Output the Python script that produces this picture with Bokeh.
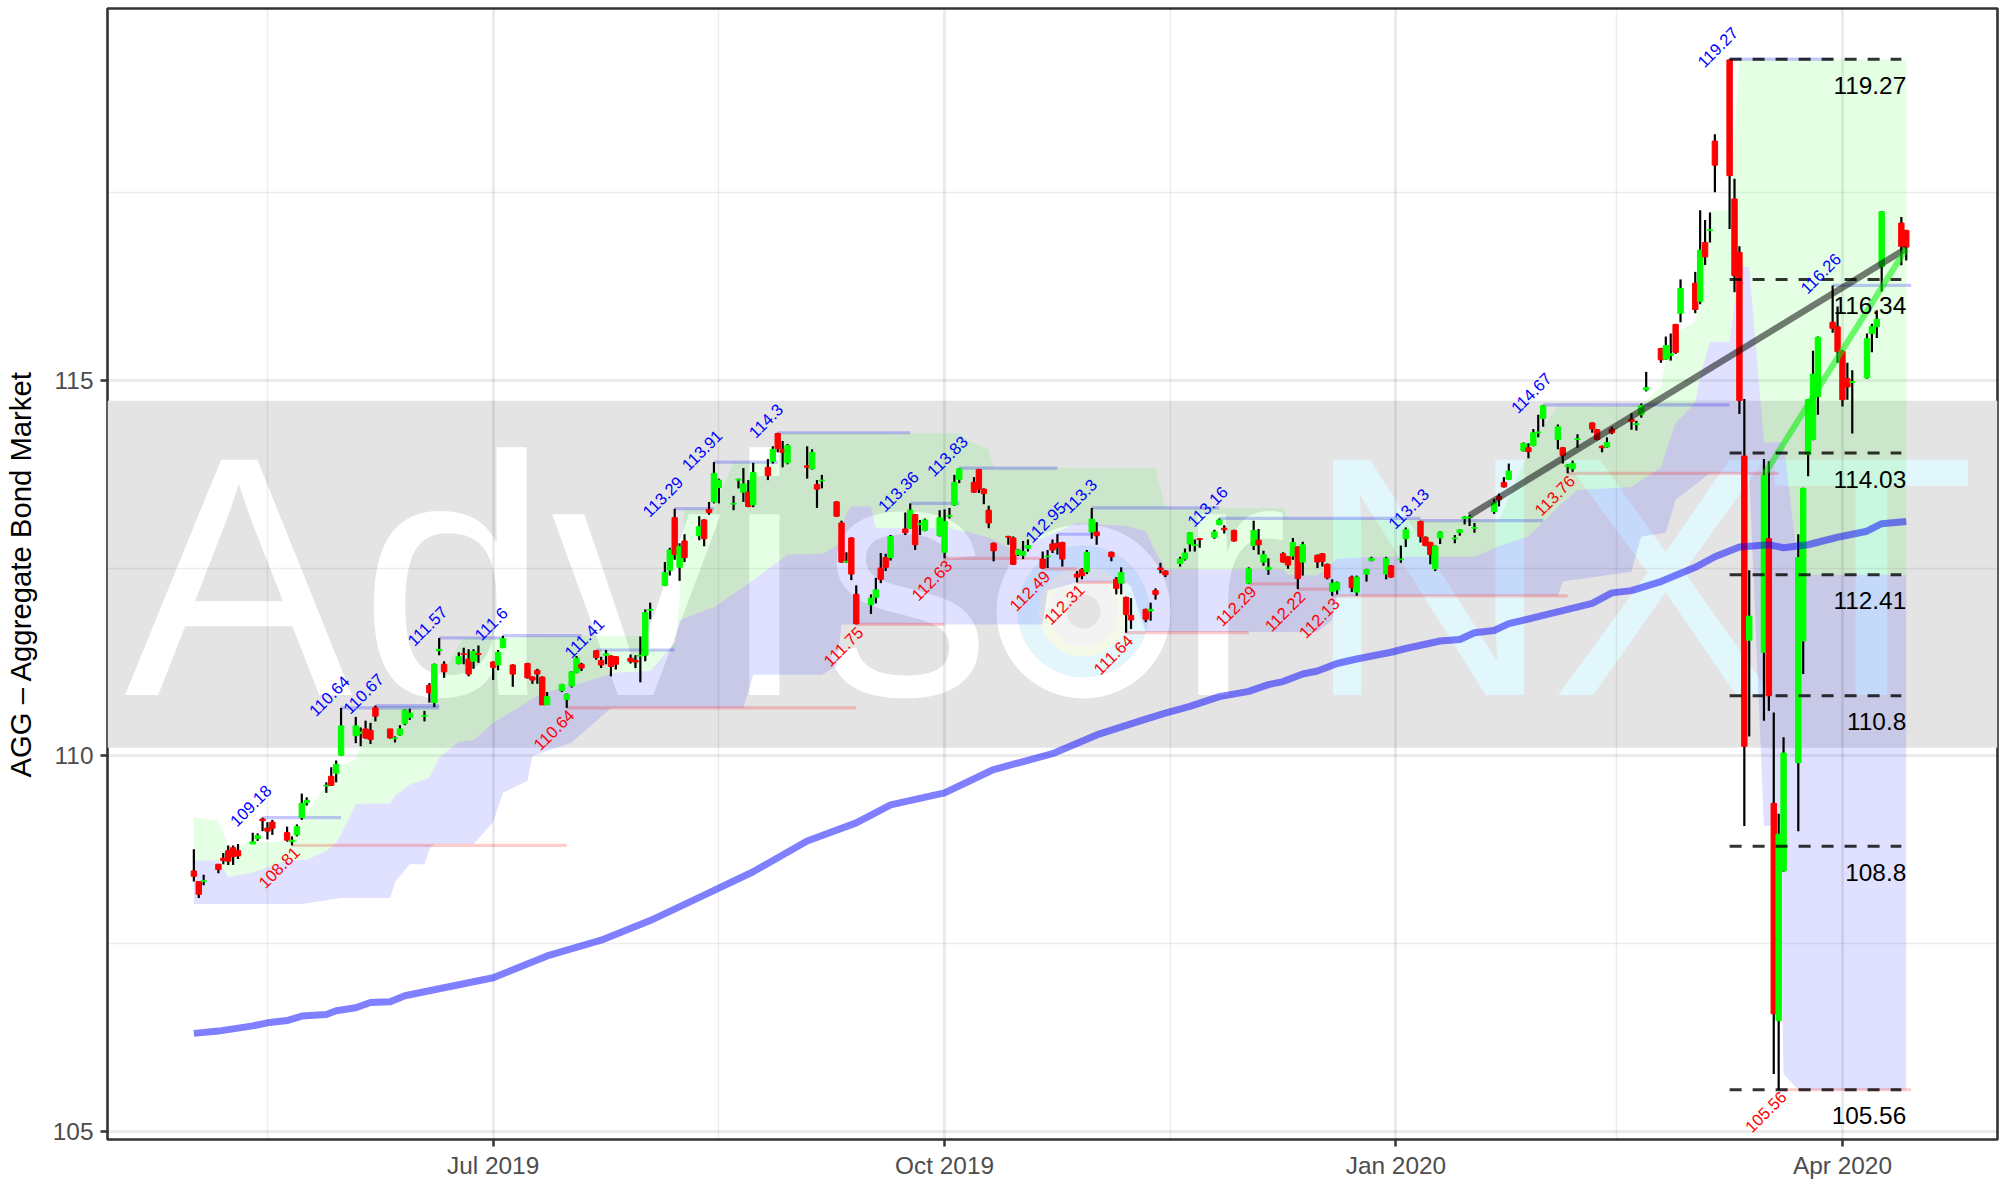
import pandas as pd
from bokeh.embed import file_html
from bokeh.resources import INLINE
from bokeh.plotting import figure
from bokeh.models import FixedTicker, ColumnDataSource, Range1d
from bokeh.core.properties import value

# ---- candles by month: day of month, high, body top, body bottom, low, R/G
d_2019_05 = [1,2,3,6,7,8,9,10,13,14,15,16,17,20,21,22,23,24,28,29,30,31]
h_2019_05 = [108.76,108.33,108.42,108.56,108.71,108.81,108.81,108.83,108.98,108.97,109.18,109.12,109.15,109.06,108.93,109.09,109.50,109.45,109.65,109.85,109.94,110.64]
t_2019_05 = [108.47,108.33,108.34,108.56,108.64,108.74,108.78,108.74,108.86,108.94,109.16,109.04,109.12,108.98,108.88,109.06,109.37,109.41,109.61,109.73,109.89,110.40]
b_2019_05 = [108.40,108.16,108.33,108.49,108.61,108.60,108.66,108.67,108.83,108.90,109.14,109.00,109.04,108.88,108.86,108.95,109.18,109.38,109.60,109.61,109.77,110.01]
l_2019_05 = [108.33,108.11,108.28,108.44,108.56,108.55,108.55,108.63,108.83,108.87,109.00,108.89,108.95,108.86,108.81,108.93,109.15,109.34,109.51,109.60,109.65,110.00]
c_2019_05 = "RRGRRRRRGGRRRRGGGGGRGG"

d_2019_06 = [3,4,5,6,7,10,11,12,13,14,17,18,19,20,21,24,25,26,27,28]
h_2019_06 = [110.52,110.38,110.47,110.44,110.67,110.36,110.26,110.41,110.62,110.63,110.60,110.97,111.23,111.57,111.26,111.38,111.44,111.42,111.42,111.47]
t_2019_06 = [110.40,110.32,110.36,110.34,110.64,110.36,110.24,110.36,110.61,110.57,110.54,110.94,111.22,111.42,111.22,111.32,111.36,111.29,111.39,111.36]
b_2019_06 = [110.27,110.30,110.24,110.22,110.53,110.24,110.23,110.28,110.43,110.51,110.53,110.84,110.71,111.40,111.12,111.23,111.35,111.09,111.26,111.35]
l_2019_06 = [110.17,110.13,110.23,110.16,110.46,110.23,110.18,110.27,110.41,110.48,110.46,110.71,110.65,111.34,111.04,111.22,111.22,111.06,111.16,111.24]
c_2019_06 = "GGRRRRGGGGGRGGRGRRGR"

d_2019_07 = [1,2,3,5,8,9,10,11,12,15,16,17,18,19,22,23,24,25,26,29,30,31]
h_2019_07 = [111.26,111.41,111.60,111.22,111.24,111.06,111.16,111.06,110.85,110.96,110.83,111.13,111.33,111.24,111.41,111.32,111.41,111.34,111.33,111.35,111.34,111.59]
t_2019_07 = [111.25,111.38,111.56,111.21,111.23,111.05,111.14,111.05,110.79,110.95,110.82,111.12,111.30,111.22,111.40,111.27,111.36,111.33,111.32,111.30,111.27,111.34]
b_2019_07 = [111.18,111.21,111.44,111.09,111.04,111.01,111.09,110.68,110.68,110.87,110.75,110.93,111.11,111.17,111.31,111.21,111.34,111.19,111.22,111.26,111.25,111.33]
l_2019_07 = [111.01,111.14,111.44,110.92,111.03,110.96,110.96,110.68,110.68,110.85,110.64,110.91,111.10,111.13,111.28,111.17,111.22,111.06,111.15,111.23,111.17,110.98]
c_2019_07 = "RGGRRRRRGGGGGRRRGRRRRG"

d_2019_08 = [1,2,5,6,7,8,9,12,13,14,15,16,19,20,21,22,23,26,27,28,29,30]
h_2019_08 = [111.95,112.04,112.58,112.77,113.29,112.83,112.95,113.19,113.15,113.38,113.91,113.69,113.46,113.69,113.83,113.67,113.90,113.95,114.12,114.30,114.19,114.15]
t_2019_08 = [111.91,111.95,112.44,112.74,113.17,112.79,112.86,113.05,113.14,113.28,113.76,113.67,113.36,113.68,113.62,113.51,113.77,113.84,114.08,114.29,114.08,114.13]
b_2019_08 = [111.34,111.94,112.27,112.47,112.68,112.51,112.64,112.93,112.89,113.24,113.38,113.57,113.35,113.67,113.51,113.32,113.34,113.73,113.92,114.09,114.04,113.90]
l_2019_08 = [111.26,111.82,112.26,112.40,112.61,112.33,112.58,112.87,112.79,113.21,113.36,113.36,113.27,113.56,113.38,113.31,113.31,113.67,113.89,114.04,113.84,113.88]
c_2019_08 = "GGGGRGRGRRGGGGGRGRGRRG"

d_2019_09 = [3,4,5,6,9,10,11,12,13,16,17,18,19,20,23,24,25,26,27,30]
h_2019_09 = [114.12,114.08,113.67,113.74,113.39,113.13,112.71,112.91,112.27,112.15,112.37,112.70,112.69,112.94,113.24,113.36,113.22,113.14,113.16,113.27]
t_2019_09 = [113.86,114.04,113.61,113.67,113.38,113.10,112.59,112.90,112.15,112.10,112.21,112.50,112.64,112.92,113.02,113.27,113.21,113.09,113.14,113.17]
b_2019_09 = [113.84,113.82,113.55,113.66,113.19,112.58,112.58,112.42,111.76,112.01,112.11,112.35,112.51,112.64,112.97,113.03,112.81,113.08,113.00,112.93]
l_2019_09 = [113.69,113.81,113.30,113.56,113.18,112.57,112.57,112.34,111.75,111.89,112.03,112.30,112.46,112.60,112.94,113.02,112.74,112.94,112.99,112.92]
c_2019_09 = "RGRGRRGRRGGRRGRGRGGG"

d_2019_10 = [1,2,3,4,7,8,9,10,11,14,15,16,17,18,21,22,23,24,25,28,29,30,31]
h_2019_10 = [113.28,113.30,113.74,113.83,113.71,113.82,113.56,113.33,112.84,112.93,112.92,112.75,112.86,112.88,112.72,112.74,112.88,112.95,112.85,112.46,112.50,112.74,113.30]
t_2019_10 = [113.12,113.20,113.64,113.82,113.64,113.81,113.55,113.27,112.83,112.92,112.90,112.74,112.72,112.80,112.62,112.66,112.82,112.83,112.84,112.42,112.48,112.71,113.15]
b_2019_10 = [112.71,113.19,113.34,113.68,113.51,113.55,113.49,113.10,112.73,112.91,112.55,112.68,112.67,112.76,112.50,112.65,112.74,112.77,112.62,112.38,112.40,112.45,112.98]
l_2019_10 = [112.63,113.16,113.33,113.63,113.50,113.50,113.35,113.03,112.59,112.81,112.54,112.66,112.62,112.72,112.49,112.50,112.70,112.68,112.52,112.31,112.35,112.42,112.89]
c_2019_10 = "GGGGRRRRRRRGGGRGRRRRRGG"

d_2019_11 = [1,4,5,6,7,8,11,12,13,14,15,18,19,20,21,22,25,26,27,29]
h_2019_11 = [113.11,112.72,112.38,112.51,112.12,112.10,111.96,112.04,112.23,112.57,112.47,112.65,112.76,112.98,112.88,112.90,113.01,113.16,113.07,113.01]
t_2019_11 = [112.98,112.71,112.35,112.44,112.11,111.87,111.95,111.95,112.20,112.50,112.46,112.62,112.70,112.97,112.81,112.89,112.98,113.14,113.03,113.00]
b_2019_11 = [112.93,112.65,112.23,112.30,111.88,111.81,111.82,111.93,112.15,112.48,112.41,112.56,112.62,112.82,112.80,112.88,112.91,113.08,113.01,112.86]
l_2019_11 = [112.81,112.59,112.15,112.15,111.64,111.69,111.78,111.80,112.08,112.43,112.38,112.52,112.60,112.72,112.72,112.77,112.89,113.07,112.96,112.85]
c_2019_11 = "RRRGRRRGRRRGGGGRGGRR"

d_2019_12 = [2,3,4,5,6,9,10,11,12,13,16,17,18,19,20,23,24,26,27,30,31]
h_2019_12 = [112.51,113.13,113.02,112.73,112.63,112.71,112.66,112.90,112.79,112.85,112.68,112.70,112.56,112.35,112.32,112.40,112.40,112.49,112.65,112.65,112.54]
t_2019_12 = [112.49,113.00,112.87,112.68,112.51,112.69,112.65,112.84,112.78,112.81,112.67,112.69,112.55,112.30,112.31,112.38,112.38,112.48,112.63,112.63,112.53]
b_2019_12 = [112.30,112.80,112.81,112.58,112.48,112.58,112.54,112.66,112.36,112.58,112.58,112.59,112.37,112.19,112.21,112.24,112.18,112.42,112.60,112.42,112.38]
l_2019_12 = [112.29,112.74,112.68,112.53,112.41,112.57,112.49,112.61,112.22,112.40,112.50,112.52,112.35,112.13,112.15,112.18,112.13,112.32,112.59,112.35,112.37]
c_2019_12 = "GGRGGRRGRGRRRGGRGGGGR"

d_2020_01 = [2,3,6,7,8,9,10,13,14,15,16,17,21,22,23,24,27,28,29,30,31]
h_2020_01 = [112.80,113.04,113.13,112.92,112.85,112.80,112.99,112.94,113.02,113.19,113.21,113.10,113.42,113.49,113.71,113.89,114.17,114.16,114.35,114.54,114.67]
t_2020_01 = [112.62,113.01,113.12,112.91,112.84,112.79,112.98,112.90,113.01,113.18,113.18,113.04,113.37,113.45,113.64,113.79,114.16,114.10,114.30,114.31,114.66]
b_2020_01 = [112.61,112.89,112.92,112.80,112.68,112.49,112.90,112.89,112.97,113.16,113.17,113.03,113.25,113.41,113.58,113.68,114.06,114.05,114.13,114.30,114.49]
l_2020_01 = [112.57,112.78,112.84,112.79,112.55,112.46,112.82,112.83,112.93,113.08,113.06,112.97,113.22,113.32,113.57,113.67,114.05,113.96,114.12,114.24,114.38]
c_2020_01 = "GGRRRGGGGGGGGRRGGRGGG"

d_2020_02 = [3,4,5,6,7,10,11,12,13,14,18,19,20,21,24,25,26,27,28]
h_2020_02 = [114.41,114.11,113.88,113.93,114.28,114.44,114.35,114.13,114.24,114.38,114.56,114.46,114.69,115.11,115.43,115.58,115.62,115.75,116.34]
t_2020_02 = [114.38,114.10,113.87,113.89,114.22,114.43,114.34,114.12,114.17,114.35,114.48,114.42,114.66,114.90,115.42,115.46,115.35,115.74,116.22]
b_2020_02 = [114.21,114.00,113.85,113.82,114.21,114.35,114.21,114.10,114.11,114.30,114.45,114.41,114.54,114.87,115.27,115.28,115.33,115.37,115.89]
l_2020_02 = [114.08,113.89,113.76,113.78,114.10,114.30,114.20,114.04,114.10,114.28,114.34,114.33,114.50,114.85,115.23,115.27,115.26,115.35,115.77]
c_2020_02 = "GRGGGRRRGRRGGGRGGRG"

d_2020_03 = [2,3,4,5,6,9,10,11,12,13,16,17,18,19,20,23,24,25,26,27,30,31]
h_2020_03 = [116.44,117.26,117.13,117.23,118.27,119.27,117.68,116.78,114.75,112.47,113.95,113.92,110.58,109.23,110.25,112.95,113.57,114.75,115.39,115.58,116.26,115.98]
t_2020_03 = [116.29,116.73,116.83,117.00,118.18,119.26,117.41,116.70,113.99,111.86,113.73,112.89,109.37,108.96,110.04,112.64,113.56,114.74,115.08,115.57,115.77,115.71]
b_2020_03 = [115.94,116.05,116.64,116.99,117.86,117.72,116.39,114.73,110.13,111.54,111.38,110.80,106.57,106.48,108.47,109.91,111.53,114.01,114.21,114.78,115.69,115.38]
l_2020_03 = [115.89,116.01,116.53,116.83,117.50,117.01,116.17,114.55,109.07,110.26,110.47,110.60,105.77,105.56,108.46,109.00,111.09,113.72,114.20,114.54,115.63,115.23]
c_2020_03 = "RGRGRRRRRGGRRGGGGGGGRR"

d_2020_04 = [1,2,3,6,7,8,9,13,14]
h_2020_04 = [115.40,115.23,115.13,115.62,115.75,115.93,117.25,117.17,117.00]
t_2020_04 = [115.38,115.02,114.98,115.55,115.71,115.81,117.24,117.09,116.99]
b_2020_04 = [114.74,114.91,114.97,115.03,115.62,115.71,116.51,116.78,116.77]
l_2020_04 = [114.65,114.74,114.29,115.02,115.37,115.56,116.18,116.53,116.59]
c_2020_04 = "RRGGGGGRR"

# ---- cloud: top of the green ribbon, shared middle, bottom of the blue ribbon
green_top_dates = ["2019-05-01","2019-05-06","2019-05-07","2019-05-08","2019-05-13","2019-05-20","2019-05-24","2019-05-31","2019-06-03","2019-06-04","2019-06-07","2019-06-19","2019-06-20","2019-06-24","2019-06-25","2019-07-03","2019-07-19","2019-07-31","2019-08-01","2019-08-07","2019-08-08","2019-08-09","2019-08-14","2019-08-15","2019-08-19","2019-08-28","2019-08-29","2019-10-04","2019-10-07","2019-10-10","2019-10-11","2019-11-13","2019-11-15","2019-12-09","2019-12-10","2020-01-06","2020-01-07","2020-01-22","2020-01-28","2020-01-31","2020-02-03","2020-02-20","2020-02-24","2020-02-25","2020-02-28","2020-03-02","2020-03-03","2020-03-05","2020-03-09","2020-03-11","2020-04-14"]
green_top_vals = [109.18,109.14,109.0,108.76,108.86,108.85,109.25,109.87,109.96,110.13,110.66,110.66,111.0,111.48,111.57,111.58,111.6,111.6,111.41,111.41,112.1,113.29,113.29,113.3,113.91,113.91,114.3,114.29,114.16,114.08,113.84,113.83,113.3,113.3,113.16,113.16,113.13,113.14,114.03,114.38,114.65,114.66,114.92,115.27,115.67,115.78,116.04,117.26,117.26,119.27,119.27]

mid_dates = ["2019-05-01","2019-05-06","2019-05-08","2019-05-13","2019-05-20","2019-05-24","2019-05-28","2019-05-30","2019-05-31","2019-06-03","2019-06-10","2019-06-11","2019-06-14","2019-06-18","2019-06-20","2019-06-24","2019-06-27","2019-07-01","2019-07-05","2019-07-10","2019-07-15","2019-07-18","2019-07-26","2019-08-02","2019-08-07","2019-08-08","2019-08-15","2019-08-22","2019-08-30","2019-09-06","2019-09-09","2019-09-11","2019-09-12","2019-09-16","2019-09-17","2019-10-02","2019-10-07","2019-10-11","2019-10-15","2019-10-21","2019-10-28","2019-11-07","2019-11-11","2019-11-13","2019-11-15","2019-12-09","2019-12-10","2019-12-16","2019-12-20","2019-12-27","2020-01-17","2020-01-22","2020-01-28","2020-02-04","2020-02-07","2020-02-18","2020-02-24","2020-02-27","2020-03-02","2020-03-03","2020-03-05","2020-03-09","2020-03-11","2020-03-13","2020-03-16","2020-03-20","2020-03-23","2020-03-24","2020-04-14"]
mid_vals = [108.61,108.61,108.39,108.45,108.61,108.62,108.74,108.85,108.96,109.36,109.37,109.47,109.62,109.71,109.98,110.19,110.21,110.44,110.60,110.80,110.91,110.95,111.11,111.13,111.50,111.81,111.98,112.29,112.68,112.69,112.79,113.23,113.32,113.32,113.03,113.03,112.96,112.88,112.74,112.9,113.10,113.06,112.99,112.72,112.48,112.48,112.41,112.40,112.62,112.65,112.65,112.79,112.92,113.37,113.54,113.58,113.84,114.43,114.70,115.05,115.51,115.51,116.51,116.51,114.17,114.17,112.5,112.41,112.41]

blue_bot_dates = ["2019-05-01","2019-05-23","2019-05-31","2019-06-10","2019-06-11","2019-06-14","2019-06-17","2019-06-18","2019-06-19","2019-06-27","2019-07-01","2019-07-03","2019-07-08","2019-07-09","2019-07-17","2019-07-25","2019-08-21","2019-08-23","2019-09-06","2019-09-09","2019-09-10","2019-10-21","2019-10-22","2019-10-28","2019-11-07","2019-11-08","2019-11-11","2019-12-16","2019-12-19","2019-12-20","2020-02-03","2020-02-04","2020-02-18","2020-02-19","2020-02-20","2020-02-25","2020-02-27","2020-03-05","2020-03-13","2020-03-16","2020-03-19","2020-03-20","2020-03-23","2020-04-14"]
blue_bot_vals = [108.03,108.03,108.11,108.11,108.32,108.56,108.56,108.76,108.83,108.83,109.12,109.51,109.67,110.0,110.18,110.64,110.64,111.08,111.08,111.2,111.75,111.75,112.2,112.31,112.31,112.25,111.65,111.65,111.81,112.13,112.13,112.32,112.45,112.7,112.92,112.97,113.41,113.76,113.76,109.07,109.07,105.77,105.56,105.56]

# ---- moving average
ma_dates = ["2019-05-01","2019-05-06","2019-05-10","2019-05-13","2019-05-16","2019-05-20","2019-05-23","2019-05-28","2019-05-30","2019-06-03","2019-06-06","2019-06-10","2019-06-13","2019-07-01","2019-07-12","2019-07-23","2019-08-02","2019-08-13","2019-08-23","2019-09-03","2019-09-13","2019-09-20","2019-10-01","2019-10-11","2019-10-23","2019-11-01","2019-11-11","2019-11-15","2019-11-20","2019-11-26","2019-12-02","2019-12-06","2019-12-09","2019-12-13","2019-12-16","2019-12-20","2019-12-24","2019-12-31","2020-01-03","2020-01-10","2020-01-14","2020-01-17","2020-01-21","2020-01-24","2020-01-31","2020-02-10","2020-02-14","2020-02-18","2020-02-24","2020-03-02","2020-03-06","2020-03-11","2020-03-17","2020-03-20","2020-03-25","2020-03-31","2020-04-06","2020-04-09","2020-04-14"]
ma_vals = [106.31,106.34,106.38,106.41,106.45,106.48,106.54,106.56,106.61,106.65,106.72,106.73,106.81,107.05,107.34,107.55,107.81,108.15,108.46,108.87,109.11,109.35,109.51,109.82,110.03,110.28,110.49,110.57,110.66,110.79,110.86,110.95,110.99,111.09,111.13,111.23,111.29,111.38,111.43,111.53,111.55,111.64,111.67,111.76,111.87,112.03,112.17,112.2,112.32,112.51,112.65,112.78,112.81,112.77,112.81,112.91,112.99,113.09,113.12]

# ---- swing highs and lows, with the date their line runs to
high_dates = ["2019-05-15","2019-05-31","2019-06-07","2019-06-20","2019-07-03","2019-07-22","2019-08-07","2019-08-15","2019-08-28","2019-09-24","2019-10-04","2019-10-24","2019-10-31","2019-11-26","2020-01-06","2020-01-31","2020-03-09","2020-03-30"]
high_vals = [109.18,110.64,110.67,111.57,111.6,111.41,113.29,113.91,114.3,113.36,113.83,112.95,113.3,113.16,113.13,114.67,119.27,116.26]
high_ends = ["2019-05-31","2019-06-20","2019-06-20","2019-07-03","2019-07-19","2019-08-07","2019-08-15","2019-08-28","2019-09-24","2019-10-04","2019-10-24","2019-10-31","2019-11-26","2020-01-06","2020-01-31","2020-03-09","2020-03-30","2020-04-15"]
low_dates = ["2019-05-21","2019-07-16","2019-09-13","2019-10-01","2019-10-21","2019-10-28","2019-11-07","2019-12-02","2019-12-12","2019-12-19","2020-02-05","2020-03-19"]
low_vals = [108.81,110.64,111.75,112.63,112.49,112.31,111.64,112.29,112.22,112.13,113.76,105.56]
low_ends = ["2019-07-16","2019-09-13","2019-10-01","2019-10-21","2019-10-28","2019-11-07","2019-12-02","2019-12-12","2019-12-19","2020-02-05","2020-03-19","2020-04-15"]

# ---- retracement levels and trend lines
level_vals = [119.27, 116.34, 114.03, 112.41, 110.8, 108.8, 105.56]
level_text = ["119.27", "116.34", "114.03", "112.41", "110.8", "108.8", "105.56"]
level_start = "2020-03-09"
level_end = "2020-04-13"
level_label_x = "2020-04-14"
trend_grey_dates = ["2020-01-16", "2020-04-14"]
trend_grey_vals = [113.2, 116.75]
trend_green_dates = ["2020-03-16", "2020-04-14"]
trend_green_vals = [113.74, 116.75]

x_tick_dates = ["2019-07-01", "2019-10-01", "2020-01-01", "2020-04-01"]
x_tick_text = ["Jul 2019", "Oct 2019", "Jan 2020", "Apr 2020"]
x_minor_dates = ["2019-05-16", "2019-08-16", "2019-11-16", "2020-02-15"]
y_ticks = [105, 110, 115]
y_minor = [107.5, 112.5, 117.5]

FONT = "Liberation Sans"
DAY = 86400000.0


def ms(s):
    return pd.Timestamp(s).value / 1e6


def msl(lst):
    return [ms(s) for s in lst]


x0 = ms("2019-07-01") - 78.6 * DAY
x1 = ms("2019-07-01") + 306.6 * DAY
y0, y1 = 104.898, 119.944
FRAME_L, FRAME_R, FRAME_T, FRAME_B = 107, 1997, 8, 1141


def px_x(px):  # decoration only: page pixel to x
    return x0 + (px - FRAME_L) / (FRAME_R - FRAME_L) * (x1 - x0)


def px_y(py):  # decoration only: page pixel to y
    return y1 - (py - FRAME_T) / (FRAME_B - FRAME_T) * (y1 - y0)


p = figure(width=1999, height=1181, output_backend="svg", toolbar_location=None,
           x_axis_type="datetime", x_range=Range1d(x0, x1), y_range=Range1d(y0, y1),
           min_border_left=107, min_border_right=2, min_border_top=8, min_border_bottom=40)
p.background_fill_color = "white"
p.border_fill_color = "white"
p.outline_line_color = "#333333"
p.outline_line_width = 2.6

# axes
p.xaxis.ticker = FixedTicker(ticks=msl(x_tick_dates), minor_ticks=msl(x_minor_dates))
p.xaxis.major_label_overrides = {ms(d): t for d, t in zip(x_tick_dates, x_tick_text)}
p.yaxis.ticker = FixedTicker(ticks=y_ticks, minor_ticks=y_minor)
p.yaxis.major_label_overrides = {t: str(t) for t in y_ticks}
for ax in (p.xaxis[0], p.yaxis[0]):
    ax.axis_line_color = None
    ax.minor_tick_line_color = None
    ax.major_tick_line_color = "#333333"
    ax.major_tick_line_width = 2.5
    ax.major_tick_out = 7
    ax.major_tick_in = 0
    ax.major_label_text_color = "#4d4d4d"
    ax.major_label_text_font = FONT
    ax.major_label_text_font_size = "24.4px"
p.xaxis.major_label_standoff = 5
p.yaxis.major_label_standoff = 7
p.yaxis.major_label_orientation = "horizontal"
p.yaxis.axis_label = "AGG \u2013 Aggregate Bond Market"
p.yaxis.axis_label_text_font = FONT
p.yaxis.axis_label_text_font_size = "29.3px"
p.yaxis.axis_label_text_font_style = "normal"
p.yaxis.axis_label_text_color = "black"
p.yaxis.axis_label_standoff = 13

for g in (p.xgrid[0], p.ygrid[0]):
    g.grid_line_color = "black"
    g.grid_line_alpha = 0.08
    g.grid_line_width = 3
    g.minor_grid_line_color = "black"
    g.minor_grid_line_alpha = 0.07
    g.minor_grid_line_width = 1.5

# ---- watermark band
p.quad(left=[x0], right=[x1], bottom=[110.11], top=[114.725], color="#e4e4e4", line_color=None, level="image")
wm_letters = ["A", "d", "v", "i", "s", "r", "N", "X", "T"]
wm_px = [238, 454, 636, 764, 905, 1231, 1428, 1664, 1871]
wm_cols = ["#ffffff"] * 6 + ["#e1f7fb"] * 3
p.text(x=[px_x(v) for v in wm_px], y=[px_y(698 - 121.5)] * 9, text=wm_letters, text_color=wm_cols,
       text_align="center", text_baseline="alphabetic", text_font=value(FONT),
       text_font_size=value("342px"), level="image")
logo_sizes = [174, 132, 90, 70, 34]
logo_cols = ["#ffffff", "#e2f6fb", "#f4f9e8", "#f3f3f3", "#e4e4e4"]
p.scatter(x=[px_x(1083)] * 5, y=[px_y(612)] * 5, size=logo_sizes, marker="circle",
          fill_color=logo_cols, line_color=None, level="image")

# ---- cloud
gx = msl(green_top_dates) + msl(mid_dates)[::-1]
gy = green_top_vals + mid_vals[::-1]
p.patch(gx, gy, fill_color="#00ff00", fill_alpha=0.105, line_color=None)
bx = msl(mid_dates) + msl(blue_bot_dates)[::-1]
by = mid_vals + blue_bot_vals[::-1]
p.patch(bx, by, fill_color="#0000ff", fill_alpha=0.12, line_color=None)

# ---- pivot lines
p.segment(x0=msl(high_dates), x1=msl(high_ends), y0=high_vals, y1=high_vals,
          line_color="#0000ff", line_alpha=0.22, line_width=3.2)
p.segment(x0=msl(low_dates), x1=msl(low_ends), y0=low_vals, y1=low_vals,
          line_color="#ff0000", line_alpha=0.2, line_width=3.2)

# ---- candles
months = [("2019-05", d_2019_05, h_2019_05, t_2019_05, b_2019_05, l_2019_05, c_2019_05),
          ("2019-06", d_2019_06, h_2019_06, t_2019_06, b_2019_06, l_2019_06, c_2019_06),
          ("2019-07", d_2019_07, h_2019_07, t_2019_07, b_2019_07, l_2019_07, c_2019_07),
          ("2019-08", d_2019_08, h_2019_08, t_2019_08, b_2019_08, l_2019_08, c_2019_08),
          ("2019-09", d_2019_09, h_2019_09, t_2019_09, b_2019_09, l_2019_09, c_2019_09),
          ("2019-10", d_2019_10, h_2019_10, t_2019_10, b_2019_10, l_2019_10, c_2019_10),
          ("2019-11", d_2019_11, h_2019_11, t_2019_11, b_2019_11, l_2019_11, c_2019_11),
          ("2019-12", d_2019_12, h_2019_12, t_2019_12, b_2019_12, l_2019_12, c_2019_12),
          ("2020-01", d_2020_01, h_2020_01, t_2020_01, b_2020_01, l_2020_01, c_2020_01),
          ("2020-02", d_2020_02, h_2020_02, t_2020_02, b_2020_02, l_2020_02, c_2020_02),
          ("2020-03", d_2020_03, h_2020_03, t_2020_03, b_2020_03, l_2020_03, c_2020_03),
          ("2020-04", d_2020_04, h_2020_04, t_2020_04, b_2020_04, l_2020_04, c_2020_04)]
xs, hs, ts, bs, ls, cs = [], [], [], [], [], []
for ym, d, h, t, b, l, c in months:
    assert len(d) == len(h) == len(t) == len(b) == len(l) == len(c), ym
    xs += [ms(f"{ym}-{v:02d}") for v in d]
    hs += h; ts += t; bs += b; ls += l
    cs += ["#ff0000" if k == "R" else "#00ff00" for k in c]
src = ColumnDataSource(dict(x=xs, h=hs, t=ts, b=bs, l=ls, c=cs))
p.segment(x0="x", x1="x", y0="l", y1="h", source=src, line_color="black", line_width=2.2)
p.vbar(x="x", width=DAY * 1.1, top="t", bottom="b", source=src, fill_color="c", line_color="c", line_width=1)

# ---- moving average and trend lines
p.line(msl(ma_dates), ma_vals, line_color="#0000ff", line_alpha=0.5, line_width=7, line_join="round")
p.line(msl(trend_grey_dates), trend_grey_vals, line_color="#000000", line_alpha=0.52, line_width=6.5)
p.line(msl(trend_green_dates), trend_green_vals, line_color="#00f000", line_alpha=0.55, line_width=6)

# ---- levels
n = len(level_vals)
p.segment(x0=[ms(level_start)] * n, x1=[ms(level_end)] * n, y0=level_vals, y1=level_vals,
          line_color="black", line_alpha=0.8, line_width=3, line_dash="12 11")
p.text(x=[ms(level_label_x)] * n, y=level_vals, text=level_text, text_color="black", y_offset=26,
       text_align="right", text_baseline="middle", text_font=value(FONT), text_font_size=value("24.4px"))

# ---- swing labels
p.text(x=msl(high_dates), y=high_vals, text=[str(v) for v in high_vals], text_color="#0000ff",
       x_offset=-12, y_offset=-12, angle=45, angle_units="deg", text_align="center", text_baseline="middle",
       text_font=value(FONT), text_font_size=value("16.5px"))
p.text(x=msl(low_dates), y=low_vals, text=[str(v) for v in low_vals], text_color="#ff0000",
       x_offset=-13, y_offset=22, angle=45, angle_units="deg", text_align="center", text_baseline="middle",
       text_font=value(FONT), text_font_size=value("16.5px"))

open("out.html", "w").write(file_html(p, INLINE))
